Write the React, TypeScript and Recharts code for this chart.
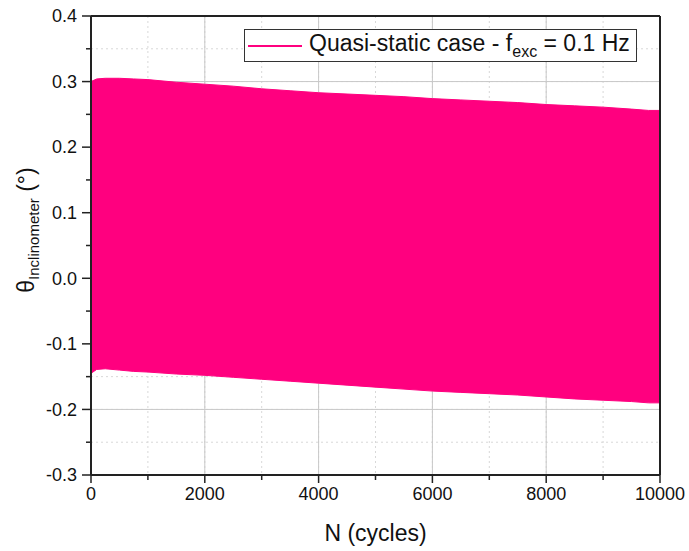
import { ComposedChart, Area, XAxis, YAxis, CartesianGrid, ReferenceLine, Legend } from "recharts"

const cycles = [0, 100, 250, 500, 750, 1000, 1500, 2000, 2500, 3000, 3500, 4000, 4500, 5000, 5500, 6000, 6500, 7000, 7500, 8000, 8500, 9000, 9500, 9800, 10000]
const upper = [0.300, 0.304, 0.305, 0.305, 0.304, 0.303, 0.299, 0.296, 0.293, 0.289, 0.286, 0.283, 0.281, 0.279, 0.277, 0.274, 0.272, 0.270, 0.268, 0.265, 0.263, 0.261, 0.258, 0.256, 0.256]
const lower = [-0.145, -0.139, -0.138, -0.140, -0.142, -0.143, -0.146, -0.148, -0.151, -0.154, -0.157, -0.160, -0.163, -0.166, -0.169, -0.172, -0.174, -0.176, -0.178, -0.181, -0.184, -0.186, -0.188, -0.190, -0.190]

const xTicks = [0, 1000, 2000, 3000, 4000, 5000, 6000, 7000, 8000, 9000, 10000]
const xMajor = [0, 2000, 4000, 6000, 8000, 10000]
const yTicks = [-0.3, -0.25, -0.2, -0.15, -0.1, -0.05, 0, 0.05, 0.1, 0.15, 0.2, 0.25, 0.3, 0.35, 0.4]
const yMajor = [-0.3, -0.2, -0.1, 0, 0.1, 0.2, 0.3, 0.4]
const yLabels = ["-0.3", "-0.2", "-0.1", "0.0", "0.1", "0.2", "0.3", "0.4"]

const seriesName = "Quasi-static case - f"
const PINK = "#ff007f"
const AXIS = "#222"
const FONT = "'Liberation Sans', Arial, sans-serif"

const data = cycles.map((n, i) => ({ n, band: [lower[i], upper[i]] }))

function XTick({ x, y, payload }: any) {
  const major = xMajor.includes(payload.value)
  return (
    <g>
      <line x1={x} x2={x} y1={y} y2={y + (major ? 8 : 5)} stroke={AXIS} strokeWidth={1.5} />
      {major && (
        <text x={x} y={y + 25} textAnchor="middle" fontSize={18} fontFamily={FONT} fill="#111">
          {payload.value}
        </text>
      )}
    </g>
  )
}

function YTick({ x, y, payload }: any) {
  const idx = yMajor.findIndex((v) => Math.abs(v - payload.value) < 1e-6)
  const major = idx >= 0
  return (
    <g>
      <line x1={x - (major ? 9 : 5)} x2={x} y1={y} y2={y} stroke={AXIS} strokeWidth={1.5} />
      {major && (
        <text x={x - 14} y={y} dy="0.35em" textAnchor="end" fontSize={18} fontFamily={FONT} fill="#111">
          {yLabels[idx]}
        </text>
      )}
    </g>
  )
}

function YLabel() {
  return (
    <text x={34} y={230} transform="rotate(-90, 34, 230)" textAnchor="middle" fontFamily={FONT} fill="#111" fontSize={23}>
      <tspan>θ</tspan>
      <tspan fontSize={15} dy={5}>Inclinometer</tspan>
      <tspan dy={-5}> (°)</tspan>
    </text>
  )
}

function LegendBox() {
  return (
    <div
      style={{
        display: "flex",
        alignItems: "center",
        border: "1.5px solid #333",
        background: "#fff",
        width: 393,
        height: 33,
        boxSizing: "border-box",
        fontFamily: FONT,
        fontSize: 23,
        color: "#111",
        whiteSpace: "nowrap",
      }}
    >
      <div style={{ width: 54, height: 2, background: PINK, marginLeft: 3, marginRight: 7 }} />
      <span>
        {seriesName}
        <sub style={{ fontSize: 16, verticalAlign: "-6px" }}>exc</sub> = 0.1 Hz
      </span>
    </div>
  )
}

export default function App() {
  return (
    <div style={{ position: "absolute", left: 0, top: 0, background: "#fff" }}>
      <ComposedChart width={689} height={551} data={data} margin={{ top: 16, right: 29, left: 0, bottom: 0 }}>
        <CartesianGrid stroke="#d8d8d8" strokeDasharray="2 3" />
        <CartesianGrid stroke="#c8c8c8" horizontalValues={yMajor} verticalValues={xMajor} />
        <XAxis
          dataKey="n"
          type="number"
          domain={[0, 10000]}
          ticks={xTicks}
          interval={0}
          height={76}
          tickSize={0}
          tickMargin={0}
          tickLine={false}
          tick={<XTick />}
          stroke={AXIS}
          strokeWidth={2}
          label={{ value: "N (cycles)", position: "insideBottom", offset: 10, fontSize: 23, fontFamily: FONT, fill: "#111" }}
          allowDataOverflow
        />
        <YAxis
          type="number"
          domain={[-0.3, 0.4]}
          ticks={yTicks}
          interval={0}
          width={91}
          tickSize={0}
          tickMargin={0}
          tickLine={false}
          tick={<YTick />}
          stroke={AXIS}
          strokeWidth={2}
          label={<YLabel />}
          allowDataOverflow
        />
        <Area
          type="linear"
          dataKey="band"
          stroke={PINK}
          strokeWidth={1}
          fill={PINK}
          fillOpacity={1}
          isAnimationActive={false}
          dot={false}
          activeDot={false}
          legendType="line"
        />
        <ReferenceLine y={0.4} stroke={AXIS} strokeWidth={2} />
        <ReferenceLine x={10000} stroke={AXIS} strokeWidth={2} />
        <Legend
          layout="horizontal"
          verticalAlign="middle"
          align="center"
          content={<LegendBox />}
          wrapperStyle={{ position: "absolute", top: 29, left: 244, width: "auto" }}
        />
      </ComposedChart>
    </div>
  )
}
